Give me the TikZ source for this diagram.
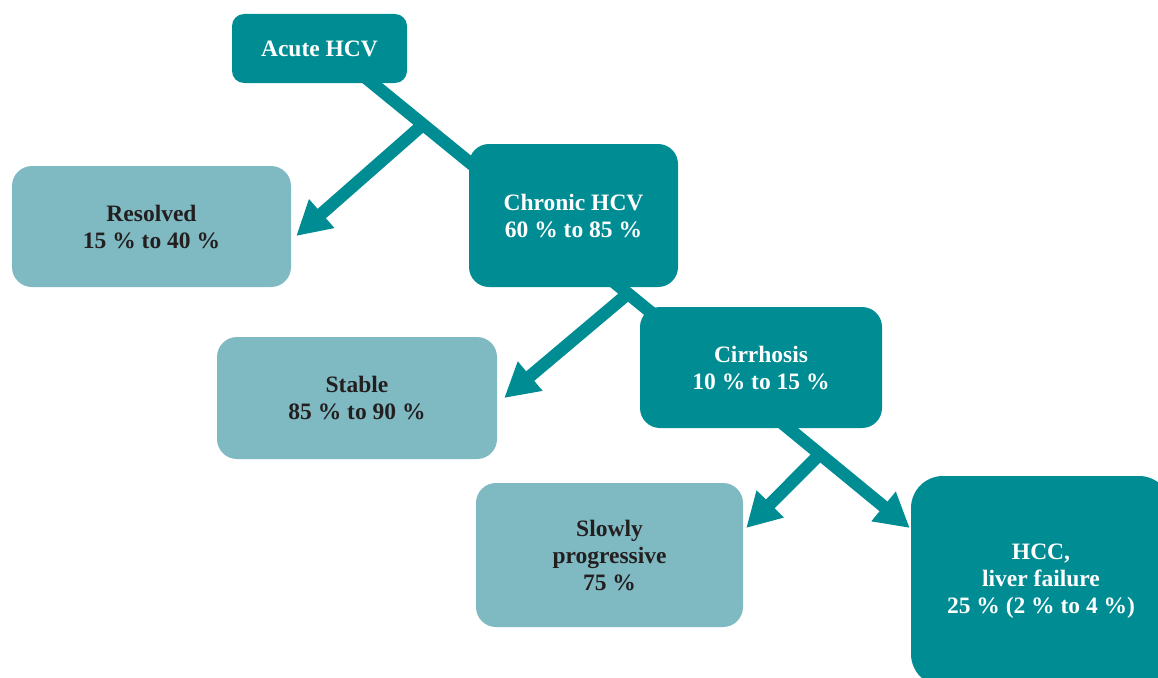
\documentclass[tikz,border=0pt]{standalone}
\usepackage{fontspec}
\setmainfont{Liberation Serif}
\usetikzlibrary{arrows.meta,calc}
\definecolor{tealdark}{HTML}{008C93}
\definecolor{teallight}{HTML}{7FB9C1}
\definecolor{inkdark}{HTML}{231F20}
\pgfdeclarelayer{bg}
\pgfsetlayers{bg,main}
\tikzset{
  box/.style={rounded corners=20pt, align=center, inner sep=0pt,
    font=\fontsize{23.5}{27}\selectfont\bfseries},
  darkbox/.style={box, fill=tealdark, text=white},
  lightbox/.style={box, fill=teallight, text=inkdark},
  flow/.style={draw=tealdark, line width=12.5pt},
  flowarrow/.style={flow, -{Triangle[length=34pt,width=36pt]}},
}
\begin{document}
\begin{tikzpicture}[x=1pt,y=-1pt]
\clip (0,0) rectangle (1158,677);

% stages of the disease
\node[darkbox, minimum width=175pt, minimum height=69pt, rounded corners=12pt]
  (acute) at (319.5,48.5) {Acute HCV};
\node[lightbox, minimum width=279pt, minimum height=121pt]
  (resolved) at (151.5,226.5) {Resolved\\15 \% to 40 \%};
\node[darkbox, minimum width=209pt, minimum height=143pt]
  (chronic) at (573.5,215.5) {Chronic HCV\\60 \% to 85 \%};
\node[lightbox, minimum width=280pt, minimum height=122pt]
  (stable) at (357,398) {Stable\\85 \% to 90 \%};
\node[darkbox, minimum width=242pt, minimum height=121pt]
  (cirrhosis) at (761,367.5) {Cirrhosis\\10 \% to 15 \%};
\node[lightbox, minimum width=267pt, minimum height=144pt]
  (slowly) at (609.5,555) {Slowly\\progressive\\75 \%};
\node[darkbox, minimum width=260pt, minimum height=210pt, rounded corners=32pt]
  (hcc) at (1041,581) {HCC,\\liver failure\\25 \% (2 \% to 4 \%)};

% anchor points of the connectors
\coordinate (a-out) at ([xshift=38.9pt,yshift=-23.3pt]acute.center);
\coordinate (c-in)  at ([xshift=-66.5pt,yshift=22.5pt]chronic.center);
\coordinate (j1) at ($(a-out)!0.435!(c-in)$);
\coordinate (r-tip) at ([xshift=5pt,yshift=-9.5pt]resolved.east);

\coordinate (c-out) at ([xshift=26.5pt,yshift=-55.2pt]chronic.center);
\coordinate (z-in)  at ([xshift=-91pt,yshift=39.5pt]cirrhosis.center);
\coordinate (j2) at ($(c-out)!0.4!(z-in)$);
\coordinate (s-tip) at ([xshift=7pt]stable.east);

\coordinate (z-out) at ([xshift=4pt,yshift=-41.5pt]cirrhosis.center);
\coordinate (h-tip) at ([xshift=-1pt,yshift=53pt]hcc.west);
\coordinate (j3) at ($(z-out)!0.379!(h-tip)$);
\coordinate (p-tip) at ([xshift=3pt,yshift=27pt]slowly.east);

% connectors, behind the boxes
\begin{pgfonlayer}{bg}
  \draw[flow] (a-out) -- (c-in);
  \draw[flowarrow] (j1) -- (r-tip);
  \draw[flow] (c-out) -- (z-in);
  \draw[flowarrow] (j2) -- (s-tip);
  \draw[flowarrow] (z-out) -- (h-tip);
  \draw[flowarrow] (j3) -- (p-tip);
\end{pgfonlayer}
\end{tikzpicture}
\end{document}
